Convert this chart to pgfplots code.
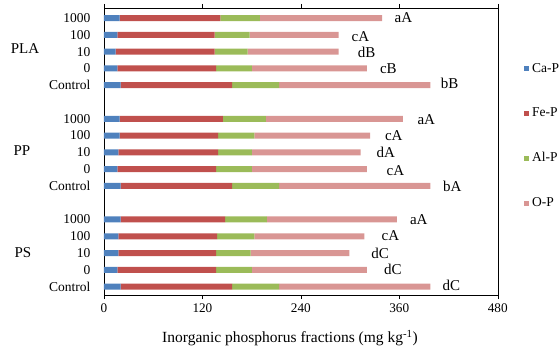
\documentclass[border=0pt]{standalone}
\usepackage{fontspec}
\setmainfont{Liberation Serif}
\usepackage{pgfplots}
\pgfplotsset{compat=1.18}
\definecolor{caP}{HTML}{4F81BD}
\definecolor{feP}{HTML}{C0504D}
\definecolor{alP}{HTML}{9BBB59}
\definecolor{oP}{HTML}{D99694}
\begin{document}
\fontsize{15}{17}\selectfont
\begin{tikzpicture}
\begin{axis}[
  scale only axis,
  width=393.7pt, height=287pt,
  xbar stacked,
  bar width=6pt,
  xmin=0, xmax=480,
  ymin=-0.5, ymax=16.6,
  xtick={0,120,240,360,480},
  ytick={0,1,2,3,4,6,7,8,9,10,12,13,14,15,16},
  yticklabels={Control,0,10,100,1000,Control,0,10,100,1000,Control,0,10,100,1000},
  ytick style={draw=none},
  xtick style={black, thin},
  tick align=outside,
  major tick length=4pt,
  axis line style={black, thin},
  /pgf/number format/assume math mode=true,
  yticklabel style={anchor=east, xshift=-4.5pt, font=\fontsize{13.5}{15}\selectfont},
  xticklabel style={font=\fontsize{13.2}{15}\selectfont},
  xlabel={Inorganic phosphorus fractions (mg kg\textsuperscript{-1})},
  xlabel style={at={(axis description cs:0.4724,0)}, anchor=center, yshift=-43pt, font=\fontsize{15.5}{17}\selectfont},
  legend style={at={(1.0668,0.815)}, anchor=north west, draw=none, fill=none, inner sep=0pt, row sep=29.5pt, font=\fontsize{13.5}{15}\selectfont},
  legend cell align=left,
  legend image code/.code={\fill[#1,draw=none] (0pt,-2.5pt) rectangle (5pt,2.5pt);},
  clip=false,
]
\addplot[fill=caP, draw=none] coordinates {
 (20.4,0) (16.3,1) (17.5,2) (17.5,3) (20.4,4)
 (20.4,6) (16.3,7) (17.5,8) (19.2,9) (19.2,10)
 (20.4,12) (16.3,13) (14.3,14) (16.3,15) (19.2,16)};
\addplot[fill=feP, draw=none] coordinates {
 (135.9,0) (120.5,1) (119.3,2) (120.5,3) (127.4,4)
 (135.9,6) (120.5,7) (121.7,8) (120.0,9) (125.8,10)
 (135.9,12) (120.5,13) (120.5,14) (118.5,15) (122.8,16)};
\addplot[fill=alP, draw=none] coordinates {
 (57.1,0) (43.6,1) (41.9,2) (45.2,3) (50.9,4)
 (57.1,6) (43.6,7) (41.2,8) (44.0,9) (52.5,10)
 (57.1,12) (43.6,13) (40.2,14) (42.7,15) (48.0,16)};
\addplot[fill=oP, draw=none] coordinates {
 (184.6,0) (140.1,1) (120.6,2) (134.4,3) (158.3,4)
 (184.6,6) (140.1,7) (132.6,8) (141.3,9) (166.9,10)
 (184.6,12) (140.1,13) (111.0,14) (108.5,15) (149.0,16)};
\legend{\hspace{1pt}Ca-P,\hspace{1pt}Fe-P,\hspace{1pt}Al-P,\hspace{1pt}O-P}
% significance letters
\node[anchor=west,inner sep=0pt] at (axis cs:354.2,16) {aA};
\node[anchor=west,inner sep=0pt] at (axis cs:301.7,14.9) {cA};
\node[anchor=west,inner sep=0pt] at (axis cs:309.4,13.95) {dB};
\node[anchor=west,inner sep=0pt] at (axis cs:336.3,13) {cB};
\node[anchor=west,inner sep=0pt] at (axis cs:410.4,12.1) {bB};
\node[anchor=west,inner sep=0pt] at (axis cs:382.0,9.95) {aA};
\node[anchor=west,inner sep=0pt] at (axis cs:342.4,9) {cA};
\node[anchor=west,inner sep=0pt] at (axis cs:332.2,8) {dA};
\node[anchor=west,inner sep=0pt] at (axis cs:344.4,6.9) {cA};
\node[anchor=west,inner sep=0pt] at (axis cs:413.2,5.95) {bA};
\node[anchor=west,inner sep=0pt] at (axis cs:372.9,4) {aA};
\node[anchor=west,inner sep=0pt] at (axis cs:338.3,3.05) {cA};
\node[anchor=west,inner sep=0pt] at (axis cs:325.8,2) {dC};
\node[anchor=west,inner sep=0pt] at (axis cs:341.2,1) {dC};
\node[anchor=west,inner sep=0pt] at (axis cs:412.5,0.1) {dC};
% group labels
\node at ([xshift=-79pt]axis cs:0,14.2) {PLA};
\node at ([xshift=-82pt]axis cs:0,8.1) {PP};
\node at ([xshift=-81pt]axis cs:0,2.05) {PS};
\end{axis}
\pgfresetboundingbox
\path[use as bounding box] (-104pt,-56pt) rectangle (456pt,295pt);
\end{tikzpicture}
\end{document}
